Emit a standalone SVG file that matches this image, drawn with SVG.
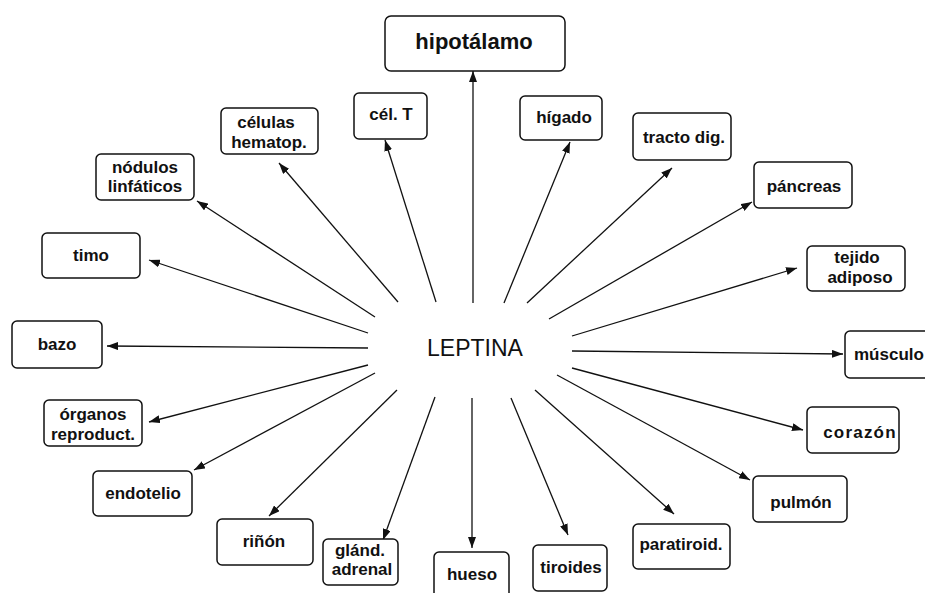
<svg xmlns="http://www.w3.org/2000/svg" width="925" height="593" viewBox="0 0 925 593">
<style>
.box{fill:#fff;stroke:#111;stroke-width:1.5}
.lbl{font-family:"Liberation Sans",Arial,sans-serif;font-weight:bold;font-size:17px;fill:#111;text-anchor:middle}
.con line{stroke:#111;stroke-width:1.3;marker-end:url(#ah)}
</style>
<defs>
<marker id="ah" markerUnits="userSpaceOnUse" markerWidth="11" markerHeight="8" refX="11" refY="4" orient="auto">
<path d="M0,0 L11,4 L0,8 z" fill="#111"/>
</marker>
</defs>
<rect width="925" height="593" fill="#fff"/>
<g class="con">
<line x1="473" y1="303" x2="473" y2="71"/>
<line x1="436" y1="302" x2="385" y2="140"/>
<line x1="504" y1="303" x2="570" y2="142"/>
<line x1="527" y1="303" x2="672" y2="168"/>
<line x1="549" y1="319" x2="752" y2="202"/>
<line x1="572" y1="336" x2="797" y2="268"/>
<line x1="572" y1="351" x2="843" y2="354"/>
<line x1="572" y1="368" x2="803" y2="430"/>
<line x1="557" y1="375" x2="750" y2="480"/>
<line x1="535" y1="390" x2="674" y2="514"/>
<line x1="511" y1="398" x2="568" y2="535"/>
<line x1="472" y1="398" x2="472" y2="548"/>
<line x1="435" y1="397" x2="383" y2="540"/>
<line x1="397" y1="390" x2="269" y2="516"/>
<line x1="375" y1="373" x2="194" y2="470"/>
<line x1="368" y1="365" x2="149" y2="422"/>
<line x1="368" y1="348" x2="107" y2="346"/>
<line x1="368" y1="333" x2="149" y2="260"/>
<line x1="375" y1="317" x2="197" y2="201"/>
<line x1="398" y1="302" x2="279" y2="163"/>
</g>
<g id="leptina"><text x="475" y="356" font-family="Liberation Sans,Arial,sans-serif" font-size="23" fill="#111" text-anchor="middle">LEPTINA</text></g>
<g id="hipotalamo"><rect class="box" x="385" y="16" width="180" height="55" rx="6"/><text class="lbl" x="474" y="49" style="font-size:22px">hipotálamo</text></g>
<g id="celT"><rect class="box" x="354" y="93" width="73" height="46" rx="5"/><text class="lbl" x="391" y="120">cél. T</text></g>
<g id="higado"><rect class="box" x="520" y="96" width="82" height="44" rx="5"/><text class="lbl" x="564" y="123">hígado</text></g>
<g id="tracto"><rect class="box" x="633" y="113" width="98" height="47" rx="5"/><text class="lbl" x="684" y="143">tracto dig.</text></g>
<g id="pancreas"><rect class="box" x="754" y="162" width="98" height="46" rx="5"/><text class="lbl" x="804" y="192">páncreas</text></g>
<g id="tejido"><rect class="box" x="807" y="246" width="98" height="45" rx="5"/><text class="lbl" x="857" y="263">tejido</text><text class="lbl" x="860" y="283">adiposo</text></g>
<g id="musculo"><rect class="box" x="845" y="331" width="95" height="47" rx="5"/><text class="lbl" x="854" y="360" style="text-anchor:start">músculo</text></g>
<g id="corazon"><rect class="box" x="807" y="407" width="92" height="46" rx="5"/><text class="lbl" x="860" y="438" letter-spacing="1.2">corazón</text></g>
<g id="pulmon"><rect class="box" x="753" y="476" width="94" height="46" rx="5"/><text class="lbl" x="801" y="508">pulmón</text></g>
<g id="paratiroid"><rect class="box" x="633" y="524" width="97" height="45" rx="5"/><text class="lbl" x="681" y="550">paratiroid.</text></g>
<g id="tiroides"><rect class="box" x="533" y="545" width="74" height="46" rx="5"/><text class="lbl" x="571" y="573">tiroides</text></g>
<g id="hueso"><rect class="box" x="434" y="552" width="75" height="48" rx="5"/><text class="lbl" x="472" y="580">hueso</text></g>
<g id="glandula"><rect class="box" x="323" y="539" width="75" height="46" rx="5"/><text class="lbl" x="360" y="556">glánd.</text><text class="lbl" x="362" y="575">adrenal</text></g>
<g id="rinon"><rect class="box" x="217" y="519" width="96" height="46" rx="5"/><text class="lbl" x="264" y="547">riñón</text></g>
<g id="endotelio"><rect class="box" x="93" y="471" width="99" height="45" rx="5"/><text class="lbl" x="143" y="499">endotelio</text></g>
<g id="organos"><rect class="box" x="44" y="400" width="98" height="46" rx="5"/><text class="lbl" x="93" y="420">órganos</text><text class="lbl" x="93" y="440">reproduct.</text></g>
<g id="bazo"><rect class="box" x="12" y="321" width="90" height="47" rx="5"/><text class="lbl" x="57" y="350">bazo</text></g>
<g id="timo"><rect class="box" x="42" y="233" width="98" height="45" rx="5"/><text class="lbl" x="91" y="261">timo</text></g>
<g id="nodulos"><rect class="box" x="96" y="154" width="98" height="46" rx="5"/><text class="lbl" x="145" y="173">nódulos</text><text class="lbl" x="145" y="192">linfáticos</text></g>
<g id="celulas"><rect class="box" x="221" y="108" width="97" height="46" rx="5"/><text class="lbl" x="266" y="128">células</text><text class="lbl" x="269" y="148">hematop.</text></g>
</svg>
